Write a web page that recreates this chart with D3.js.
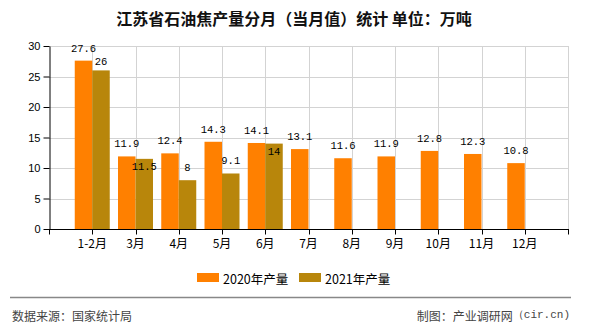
<!DOCTYPE html>
<html><head><meta charset="utf-8">
<script src="https://cdn.jsdelivr.net/npm/d3@7"></script>
<style>
html,body{margin:0;padding:0;background:#fff;}
svg{display:block;}
</style></head>
<body>
<svg id="chart" width="590" height="330"></svg>
<script>
const categories = ["1-2月","3月","4月","5月","6月","7月","8月","9月","10月","11月","12月"];
const values2020 = [27.6,11.9,12.4,14.3,14.1,13.1,11.6,11.9,12.8,12.3,10.8];
const values2021 = [26,11.5,8,9.1,14];
const seriesNames = ["2020年产量","2021年产量"];
const seriesColors = ["#FF8000","#B8860B"];
const yTicks = [0,5,10,15,20,25,30];
const titleText = "江苏省石油焦产量分月（当月值）统计 单位：万吨";
const sourceText = "数据来源：国家统计局";
const creditText = "制图：产业调研网";
const creditTail = "（cir.cn)";

(function(){
const svg = d3.select("#chart");
const pL = 49, pR = 568, pT = 46, pB = 229;
const x = d3.scaleLinear().domain([0, categories.length + 1]).range([pL, pR]);
const y = d3.scaleLinear().domain([0, 30]).range([pB, pT]);
const bw = 17.5;

// title
svg.append("text").attr("x", 294).attr("y", 18)
  .attr("text-anchor","middle").attr("dominant-baseline","central")
  .attr("font-family","'Noto Sans CJK SC', sans-serif").attr("font-size",16)
  .attr("font-weight",600).attr("fill","#111").text(titleText);

// grid
const g = svg.append("g");
g.selectAll(".hg").data(yTicks.filter(d=>d>0)).join("line")
  .attr("x1", pL).attr("x2", pR)
  .attr("y1", d=>Math.round(y(d))+0.5).attr("y2", d=>Math.round(y(d))+0.5)
  .attr("stroke","#d3d3d3").attr("stroke-width",1);
const xTickIdx = d3.range(1, categories.length + 2);
g.selectAll(".vg").data(xTickIdx).join("line")
  .attr("x1", d=>Math.round(x(d))+0.5).attr("x2", d=>Math.round(x(d))+0.5)
  .attr("y1", pT).attr("y2", pB)
  .attr("stroke","#d3d3d3").attr("stroke-width",1);

// bars
const bars = svg.append("g");
bars.selectAll(".b20").data(values2020).join("rect")
  .attr("x", (d,i)=>x(i+1)-bw).attr("width", bw)
  .attr("y", d=>y(d)).attr("height", d=>y(0)-y(d))
  .attr("fill", seriesColors[0]);
bars.selectAll(".b21").data(values2021).join("rect")
  .attr("x", (d,i)=>x(i+1)).attr("width", bw)
  .attr("y", d=>y(d)).attr("height", d=>y(0)-y(d))
  .attr("fill", seriesColors[1]);

// axes
const yAxis = d3.axisLeft(y).tickValues(yTicks).tickSize(6).tickSizeOuter(0);
const ya = svg.append("g").attr("transform",`translate(${pL+0.5},0)`).call(yAxis);
ya.select(".domain").attr("stroke","#000");
ya.selectAll(".tick line").attr("stroke","#000");
ya.selectAll(".tick text").attr("font-family","'Liberation Sans', Arial, sans-serif")
  .attr("font-size",11).attr("fill","#000").attr("x",-9);

const xa = svg.append("g").attr("transform",`translate(0,${pB+0.5})`);
xa.append("line").attr("x1",pL).attr("x2",pR+1).attr("stroke","#000");
xa.selectAll(".xt").data([0].concat(xTickIdx)).join("line")
  .attr("x1", d=>Math.round(x(d))+0.5).attr("x2", d=>Math.round(x(d))+0.5)
  .attr("y1",0).attr("y2",5).attr("stroke","#000");
xa.selectAll(".xl").data(categories).join("text")
  .attr("x",(d,i)=>x(i+1)).attr("y",13)
  .attr("text-anchor","middle").attr("dominant-baseline","central")
  .attr("font-family","'Noto Sans CJK SC', sans-serif").attr("font-size",12)
  .attr("fill","#000").text(d=>d);

// value labels
const lblFont = "'Liberation Mono', monospace";
const charW = 6.3;
const lg = svg.append("g").attr("font-family",lblFont).attr("font-size",10.5).attr("fill","#000")
  .attr("text-anchor","middle").attr("dominant-baseline","central");
const lab20 = values2020.map((v,i)=>({v, cx: x(i+1)-bw/2, cy: y(v)-12}));
const lab21 = values2021.map((v,i)=>{
  const cx = x(i+1)+bw/2;
  let cy = y(v)-12;
  const o = lab20[i];
  const w1 = String(o.v).length*charW, w2 = String(v).length*charW;
  const hOverlap = Math.abs(cx-o.cx) < (w1+w2)/2;
  if (hOverlap && Math.abs(cy-o.cy) < 13) {
    cy = y(v)-8;
    if (Math.abs(cy-o.cy) < 13) cy = y(v)+8;
  }
  return {v, cx, cy};
});
lg.selectAll(".l20").data(lab20).join("text")
  .attr("x",d=>d.cx).attr("y",d=>d.cy).text(d=>d.v);
lg.selectAll(".l21").data(lab21).join("text")
  .attr("x",d=>d.cx).attr("y",d=>d.cy).text(d=>d.v);

// legend
const legX = [197, 299];
const leg = svg.append("g");
seriesNames.forEach((n,i)=>{
  leg.append("rect").attr("x",legX[i]).attr("y",273).attr("width",22).attr("height",9).attr("fill",seriesColors[i]);
  leg.append("text").attr("x",legX[i]+26).attr("y",278.5).attr("dominant-baseline","central")
    .attr("font-family","'Noto Sans CJK SC', sans-serif").attr("font-size",12.5).attr("fill","#000").text(n);
});

// footer
svg.append("line").attr("x1",10).attr("x2",571).attr("y1",297.5).attr("y2",297.5)
  .attr("stroke","#888").attr("stroke-width",1.5);
svg.append("text").attr("x",12).attr("y",315).attr("dominant-baseline","central")
  .attr("font-family","'Noto Sans CJK SC', sans-serif").attr("font-size",12).attr("fill","#444").text(sourceText);
const ft = svg.append("text").attr("x",570).attr("y",315).attr("dominant-baseline","central").attr("text-anchor","end")
  .attr("font-family","'Noto Sans CJK SC', sans-serif").attr("font-size",12).attr("fill","#444");
ft.append("tspan").text(creditText);
ft.append("tspan").attr("font-family","'Liberation Mono', monospace").attr("font-size",11).text(creditTail);
})();
</script>
</body></html>
